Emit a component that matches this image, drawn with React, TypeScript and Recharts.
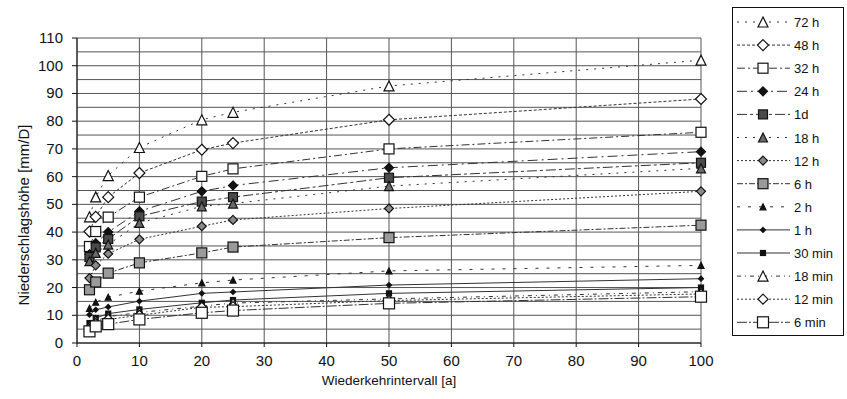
import { LineChart, Line, XAxis, YAxis, CartesianGrid, Legend } from "recharts";

// Wiederkehrintervall [a]
const years = [2, 3, 5, 10, 20, 25, 50, 100];

// Niederschlagshöhe [mm/D] per duration
const h72 = [45.5, 52.7, 60.4, 70.5, 80.5, 83.2, 92.7, 102];
const h48 = [40.2, 45.5, 52.6, 61.3, 69.7, 72.1, 80.5, 88];
const h32 = [34.8, 40.2, 45.4, 52.6, 60.1, 62.8, 70, 76];
const h24 = [32, 36, 40, 47.5, 54.7, 56.8, 63.2, 69];
const d1 = [31, 34.5, 37.5, 45.7, 51, 52.6, 59.6, 65];
const h18 = [29.5, 32.5, 35.5, 43.3, 49.3, 50.3, 56.6, 63];
const h12 = [23.4, 28, 32.2, 37.4, 42.1, 44.4, 48.5, 54.7];
const h6 = [19.2, 22, 25.2, 28.9, 32.5, 34.6, 38, 42.5];
const h2 = [12.5, 14.7, 16.5, 18.7, 21.7, 22.7, 26, 28];
const h1 = [10.2, 12, 13, 15.1, 17.9, 18.4, 20.9, 23.2];
const m30 = [7.2, 9, 10.6, 12.1, 14.5, 15.5, 17.9, 20];
const m18 = [6, 8, 9.5, 11, 13.3, 14.4, 15.9, 18.5];
const m12 = [5, 7, 8.5, 10, 12.9, 13.1, 15.3, 17.7];
const m6 = [4.2, 6, 6.8, 8.5, 10.9, 11.7, 14.3, 16.7];

const xTicks = [0, 10, 20, 30, 40, 50, 60, 70, 80, 90, 100];
const yTicks = [0, 5, 10, 15, 20, 25, 30, 35, 40, 45, 50, 55, 60, 65, 70, 75, 80, 85, 90, 95, 100, 105, 110];

type Kind = "tri" | "dia" | "sq";

type Series = {
  key: string;
  name: string;
  values: number[];
  kind: Kind;
  size: number;
  fill: string;
  dash?: string;
};

const series: Series[] = [
  { key: "h72", name: "72 h", values: h72, kind: "tri", size: 10, fill: "#fff", dash: "2 6" },
  { key: "h48", name: "48 h", values: h48, kind: "dia", size: 11, fill: "#fff", dash: "3 2" },
  { key: "h32", name: "32 h", values: h32, kind: "sq", size: 10, fill: "#fff", dash: "8 3 2 3" },
  { key: "h24", name: "24 h", values: h24, kind: "dia", size: 9, fill: "#111", dash: "10 4 2 4" },
  { key: "d1", name: "1d", values: d1, kind: "sq", size: 9, fill: "#4a4a4a", dash: "10 3 3 3" },
  { key: "h18", name: "18 h", values: h18, kind: "tri", size: 9, fill: "#6a6a6a", dash: "2 6" },
  { key: "h12", name: "12 h", values: h12, kind: "dia", size: 9, fill: "#8a8a8a", dash: "2 2" },
  { key: "h6", name: "6 h", values: h6, kind: "sq", size: 10, fill: "#9a9a9a", dash: "6 2 2 2" },
  { key: "h2", name: "2 h", values: h2, kind: "tri", size: 6, fill: "#111", dash: "3 8" },
  { key: "h1", name: "1 h", values: h1, kind: "dia", size: 5, fill: "#111" },
  { key: "m30", name: "30 min", values: m30, kind: "sq", size: 5, fill: "#111" },
  { key: "m18", name: "18 min", values: m18, kind: "tri", size: 10, fill: "#fff", dash: "4 4 1 4" },
  { key: "m12", name: "12 min", values: m12, kind: "dia", size: 10, fill: "#fff", dash: "2 2" },
  { key: "m6", name: "6 min", values: m6, kind: "sq", size: 11, fill: "#fff", dash: "10 2 2 2" },
];

const data = years.map((t, i) => {
  const row: Record<string, number> = { t };
  series.forEach((s) => (row[s.key] = s.values[i]));
  return row;
});

const font = "'Liberation Sans', Arial, Helvetica, sans-serif";

function Marker({ kind, cx, cy, size, fill }: { kind: Kind; cx: number; cy: number; size: number; fill: string }) {
  const h = size / 2;
  const common = { fill, stroke: "#111", strokeWidth: 1.2 };
  if (kind === "tri")
    return <polygon points={`${cx},${cy - h} ${cx + h},${cy + h} ${cx - h},${cy + h}`} {...common} />;
  if (kind === "dia")
    return <polygon points={`${cx},${cy - h} ${cx + h},${cy} ${cx},${cy + h} ${cx - h},${cy}`} {...common} />;
  return <rect x={cx - h} y={cy - h} width={size} height={size} {...common} />;
}

function YTick({ x, y, payload }: any) {
  if (payload.value % 10 !== 0) return null;
  return (
    <g>
      <line x1={x - 5} x2={x} y1={y} y2={y} stroke="#111" />
      <text x={x - 14} y={y} dy={5} textAnchor="end" fontSize={15} fontFamily={font} fill="#111">
        {payload.value}
      </text>
    </g>
  );
}

function YTitle() {
  return (
    <text
      x={23}
      y={215}
      transform="rotate(-90 23 215)"
      textAnchor="middle"
      dominantBaseline="central"
      fontSize={15}
      fontFamily={font}
      fill="#111"
    >
      Niederschlagshöhe [mm/D]
    </text>
  );
}

function LegendBox() {
  return (
    <svg width={112} height={329}>
      <rect x={0.5} y={0.5} width={111} height={328} fill="#fff" stroke="#111" />
      {series.map((s, i) => {
        const y = 15 + i * 23.1;
        return (
          <g key={s.key}>
            <line x1={5} x2={58} y1={y} y2={y} stroke="#333" strokeDasharray={s.dash} />
            <Marker kind={s.kind} cx={31} cy={y} size={s.size} fill={s.fill} />
            <text x={62} y={y} dy={5} fontSize={13} fontFamily={font} fill="#111">
              {s.name}
            </text>
          </g>
        );
      })}
    </svg>
  );
}

export default function App() {
  return (
    <div style={{ position: "absolute", left: 0, top: 0, width: 847, height: 399, background: "#fff" }}>
      <LineChart width={847} height={399} data={data} margin={{ top: 38, right: 146, left: 17, bottom: 6 }}>
        <CartesianGrid stroke="#555" strokeWidth={1} horizontalValues={yTicks} verticalValues={xTicks} />
        <XAxis
          dataKey="t"
          type="number"
          domain={[0, 100]}
          ticks={xTicks}
          height={50}
          stroke="#111"
          tickSize={4}
          tickMargin={8}
          tick={{ fontSize: 15, fontFamily: font, fill: "#111" }}
          label={{
            value: "Wiederkehrintervall [a]",
            position: "insideBottom",
            offset: 8,
            style: { fontSize: 13.5, fontFamily: font, fill: "#111" },
          }}
        />
        <YAxis
          type="number"
          domain={[0, 110]}
          ticks={yTicks}
          interval={0}
          width={60}
          stroke="#111"
          tickLine={false}
          tickSize={0}
          tickMargin={0}
          tick={<YTick />}
          label={<YTitle />}
        />
        <Legend
          layout="vertical"
          align="center"
          verticalAlign="middle"
          content={() => <LegendBox />}
          wrapperStyle={{ left: 732, top: 7, width: 112, height: 329 }}
        />
        {series.map((s) => (
          <Line
            key={s.key}
            type="linear"
            dataKey={s.key}
            name={s.name}
            stroke="#333"
            strokeWidth={1}
            strokeDasharray={s.dash}
            isAnimationActive={false}
            activeDot={false}
            dot={(p: any) => (
              <Marker key={`${s.key}-${p.index}`} kind={s.kind} cx={p.cx} cy={p.cy} size={s.size} fill={s.fill} />
            )}
          />
        ))}
      </LineChart>
    </div>
  );
}
